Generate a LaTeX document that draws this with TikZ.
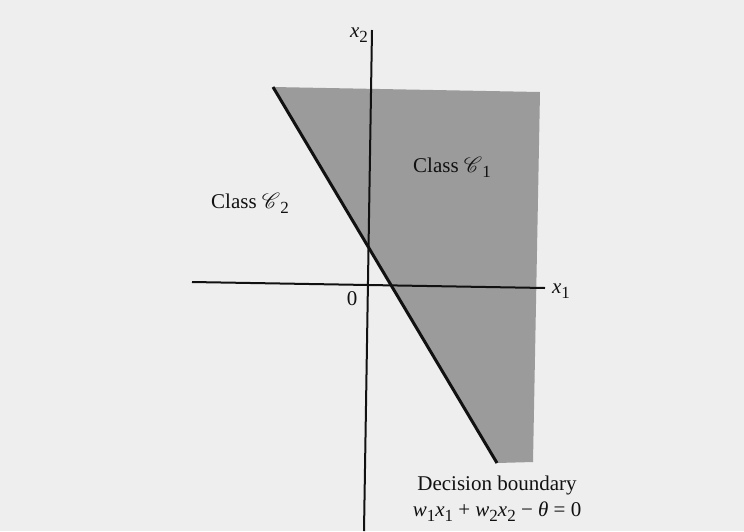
\documentclass[tikz,border=0pt]{standalone}
\usepackage{fontspec}
\setmainfont{Liberation Serif}
\usepackage{mathrsfs}
\usetikzlibrary{positioning}
\definecolor{page}{HTML}{EEEEEE}
\definecolor{region}{HTML}{9B9B9B}
\definecolor{ink}{HTML}{111111}
\newcommand{\lowidx}[1]{\raisebox{-0.55ex}{\fontsize{8.5}{9}\selectfont #1}}

\begin{document}
\begin{tikzpicture}[x=0.5pt,y=-0.5pt,font=\fontsize{10.5}{12}\selectfont,node distance=1pt,
  axisline/.style={line width=1pt,color=ink},
  txt/.style={inner sep=1pt,text=ink}]
\fill[page] (0,0) rectangle (744,531);
\useasboundingbox (0,0) rectangle (744,531);
% class 1 region and its corners
\coordinate (topleft) at (273,87);
\coordinate (topright) at (540,92);
\coordinate (botright) at (533,462);
\coordinate (botleft) at (497,463);
\fill[region] (topleft) -- (topright) -- (botright) -- (botleft) -- cycle;
% axes
\coordinate (xleft) at (192,282);
\coordinate (xright) at (545,288);
\coordinate (ytop) at (372,30);
\coordinate (ybot) at (364,531);
\draw[axisline] (xleft) -- (xright);
\draw[axisline] (ytop) -- (ybot);
\draw[line width=1.5pt,color=ink] (topleft) -- (botleft);
% labels
\node[txt] (xtwo) at (359,35) {\textit{x}\lowidx{2}};
\node[txt] (xone) at (561,291) {\textit{x}\lowidx{1}};
\node[txt] (origin) at (352,299) {0};
\node[txt] (classone) at (452,167) {Class $\mathscr{C}$\lowidx{1}};
\node[txt] (classtwo) at (250,203) {Class $\mathscr{C}$\lowidx{2}};
\node[txt] (boundary) at (497,485) {Decision boundary};
\node[txt,below=1pt of boundary] (equation) {\textit{w}\lowidx{1}\textit{x}\lowidx{1} + \textit{w}\lowidx{2}\textit{x}\lowidx{2} − \textit{θ} = 0};
\end{tikzpicture}
\end{document}
